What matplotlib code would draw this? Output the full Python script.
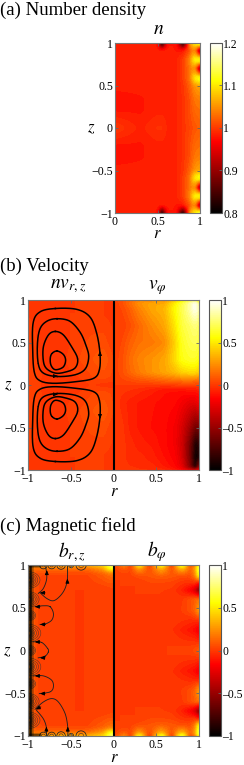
# Number density, velocity and magnetic field maps (three stacked panels).
import numpy as np
import matplotlib
matplotlib.use('Agg')
import matplotlib.pyplot as plt
from matplotlib.cm import ScalarMappable
from matplotlib.colors import LinearSegmentedColormap, Normalize
from matplotlib.patches import Ellipse

plt.rcParams['font.family'] = ['Liberation Serif', 'DejaVu Serif']
plt.rcParams['mathtext.fontset'] = 'stix'

##############################################################################
# Panel (a): n, upper half only, the lower half is the mirror image.
n_r = [0, .3, .5, .55, .62, .72, .8, .88, .94, 1]
n_z = [0, .2, .35, .5, .59, .7, .8, .91, 1]
n_vals = [
    [1.0, .985, .995, .995, .985, .985, .995, 1.005, 1.015, 1.02],
    [.98, .98, .985, .985, .985, .985, .995, 1.01, 1.025, 1.03],
    [.975, .98, .985, .985, .985, .985, .995, 1.01, 1.035, 1.04],
    [.985, .985, .985, .985, .985, .985, .995, 1.02, 1.05, 1.06],
    [.985, .985, .985, .985, .985, .985, 1.0, 1.03, 1.10, 1.13],
    [.985, .985, .985, .985, .985, .985, 1.0, 1.03, 1.05, .86],
    [.985, .985, .985, .985, .985, .985, 1.0, 1.04, 1.11, 1.14],
    [.985, .985, .985, .985, .985, .98, .98, 1.01, 1.05, .86],
    [.985, .985, .98, .78, .98, .98, .78, 1.05, 1.10, 1.15],
]

# Panel (b), left half: background of n v_rz, mirrored in z.
nv_r = [-1, -.85, -.7, -.55, -.4, -.25, -.12, 0]
nv_z = [0, .1, .3, .5, .8, 1]
nv_vals = [
    [.03, .0, -.03, -.03, -.02, .0, -.02, -.02],
    [.03, .0, -.02, -.01, .0, .03, .05, .02],
    [.03, .0, -.03, .0, .03, .06, .09, .03],
    [.02, -.01, -.03, -.01, .02, .04, .05, .0],
    [.0, -.01, -.01, .0, .0, .01, .0, -.01],
    [0, 0, 0, 0, 0, 0, 0, 0],
]

# Panel (b), right half: v_phi (not symmetric).
vphi_r = [0, .1, .2, .3, .45, .6, .72, .8, .9, .96, 1]
vphi_z = [-1, -.97, -.85, -.7, -.5, -.2, -.05, .05, .15, .3, .5, .7, .9, .97, 1]
vphi_vals = [
    [0, 0, 0, -.02, -.03, -.05, -.1, -.15, -.25, -.25, -.15],
    [0, -.02, -.03, -.05, -.05, -.1, -.15, -.25, -.6, -.95, -.5],
    [0, -.02, -.05, -.05, -.08, -.13, -.18, -.3, -.65, -1, -.9],
    [0, -.02, -.05, -.08, -.1, -.15, -.2, -.33, -.65, -.95, -.85],
    [0, -.02, -.08, -.1, -.13, -.15, -.2, -.3, -.5, -.65, -.6],
    [0, -.05, -.08, -.1, -.12, -.14, -.15, -.2, -.25, -.25, -.2],
    [0, -.02, -.03, -.05, -.08, -.12, -.12, -.12, -.1, -.1, -.08],
    [0, .02, .03, .05, .07, .1, .12, .13, .13, .12, .1],
    [0, .05, .12, .18, .25, .3, .35, .42, .45, .45, .4],
    [0, .05, .14, .2, .25, .3, .45, .58, .62, .62, .55],
    [0, .03, .1, .15, .17, .22, .42, .6, .68, .7, .65],
    [0, 0, .05, .12, .22, .3, .48, .65, .72, .78, .68],
    [0, .03, .1, .2, .3, .35, .55, .68, .85, 1, .8],
    [0, .05, .15, .25, .3, .3, .5, .65, .85, 1, .7],
    [0, .05, .1, .15, .15, .2, .3, .4, .5, .5, .3],
]

# Flow loops of panel (b), upper half; the lower half is the mirror image.
loop1_r = [-.68, -.43, -.275, -.197, -.158, -.165, -.23, -.43, -.70, -.86, -.926, -.945, -.94, -.86]
loop1_z = [.90, .89, .80, .61, .37, .18, .08, .04, .02, .05, .15, .41, .73, .86]
loop2_r = [-.66, -.51, -.39, -.32, -.29, -.33, -.45, -.66, -.82, -.88, -.89, -.86, -.78]
loop2_z = [.78, .75, .62, .46, .33, .19, .12, .10, .14, .25, .48, .66, .75]
loop3_r = [-.68, -.587, -.49, -.42, -.45, -.57, -.68, -.78, -.82, -.82, -.76]
loop3_z = [.63, .59, .45, .31, .20, .15, .14, .19, .28, .45, .59]
loop4_r = [-.66, -.587, -.56, -.59, -.68, -.73, -.74, -.72]
loop4_z = [.40, .36, .29, .21, .18, .23, .31, .37]
flow_loops = [(loop1_r, loop1_z), (loop2_r, loop2_z), (loop3_r, loop3_z), (loop4_r, loop4_z)]

# Panel (c), left half: background of b_rz, mirrored in z.
brz_r = [-1, -.93, -.85, -.5, -.3, -.12, -.04, 0]
brz_z = [0, .75, .9, .97, 1]
brz_vals = [
    [.25, .05, 0, 0, 0, 0, 0, 0],
    [.25, .05, .02, .0, .0, .02, .03, .03],
    [.25, .05, .03, .03, .03, .1, .15, .15],
    [.3, .15, .15, .15, .15, .3, .6, .65],
    [.3, .25, .3, .35, .35, .45, .7, .75],
]

# Field lines leaving the wall in panel (c).
lobe1_r = [-.859, -.781, -.703, -.625, -.566, -.539, -.539]
lobe1_z = [.676, .609, .582, .637, .727, .844, 1]
lobe2_r = [-.879, -.82, -.781, -.793]
lobe2_z = [.668, .727, .844, .98]
lobe3_r = [-.918, -.82, -.742, -.703, -.723, -.80, -.859]
lobe3_z = [.512, .523, .512, .434, .355, .309, .305]
lobe4_r = [-.94, -.84, -.77, -.762, -.80, -.88]
lobe4_z = [.102, .094, .023, -.016, -.066, -.086]
lobe5_r = [-.94, -.82, -.723, -.703, -.742, -.867]
lobe5_z = [-.297, -.297, -.348, -.426, -.484, -.504]
lobe6_r = [-.918, -.82, -.723, -.645, -.566, -.535, -.535]
lobe6_z = [-.688, -.602, -.5625, -.602, -.738, -.895, -1]
lobe7_r = [-.90, -.82, -.785, -.785]
lobe7_z = [-.70, -.80, -.90, -1]
field_lobes = [(lobe1_r, lobe1_z), (lobe2_r, lobe2_z), (lobe3_r, lobe3_z), (lobe4_r, lobe4_z),
               (lobe5_r, lobe5_z), (lobe6_r, lobe6_z), (lobe7_r, lobe7_z)]

# Closed lines against the wall: where they sit and how far out they reach.
wall_bump_z = [.824, .598, .41, .203, 0, -.191, -.39, -.594, -.816]
wall_bump_reach = [.14, .13, .09, .15, .09, .15, .09, .13, .14]
lid_bump_r = [-.82, -.723, -.613, -.496, -.379]
lid_bump_reach = [.045, .045, .05, .03, .06]
# The lines pack so tightly at the wall that they read as a dark band.
wall_band_r = [-.995, -.988, -.981, -.974, -.967, -.960, -.953, -.946]
wall_band_alpha = [1, 1, .95, .9, .8, .65, .5, .35]

# Panel (c), right half: b_phi, mirrored in z.
bphi_r = [0, .13, .2, .3, .42, .56, .68, .8, .9, .96, 1]
bphi_z = [0, .1, .24, .35, .47, .6, .705, .8, .88, .97, 1]
bphi_vals = [
    [0, 0, 0, 0, 0, 0, 0, .02, .03, .05, .1],
    [0, 0, 0, 0, 0, 0, 0, -.02, -.03, -.03, -.05],
    [0, 0, 0, 0, 0, 0, -.03, -.08, -.12, -.17, -.25],
    [0, 0, 0, 0, 0, 0, -.01, -.03, -.05, -.05, -.05],
    [0, 0, 0, 0, 0, 0, 0, 0, .05, .12, .3],
    [0, 0, 0, 0, 0, 0, 0, -.01, .05, .1, .15],
    [0, 0, 0, 0, 0, 0, -.01, -.08, -.2, -.35, -.7],
    [0, 0, 0, 0, .03, .03, .02, -.02, -.03, -.02, -.1],
    [0, 0, .02, .05, .07, .1, .08, .05, .05, .2, .6],
    [0, .1, .02, .3, .03, .35, .05, .4, .1, .3, .75],
    [0, .25, -.05, .65, -.1, .7, -.1, .75, -.05, .1, .55],
]

##############################################################################
FIG_W, FIG_H = 244, 765
hot = LinearSegmentedColormap.from_list(
    'hot64', [(0, 'black'), (.42, '#ff0000'), (.78, '#ffff00'), (1, 'white')], N=256)
fig = plt.figure(figsize=(FIG_W / 100, FIG_H / 100), dpi=100)


def px_axes(x0, y0, x1, y1):
    # Axes from pixel corners, y counted from the top of the picture.
    return fig.add_axes([x0 / FIG_W, 1 - y1 / FIG_H, (x1 - x0) / FIG_W, (y1 - y0) / FIG_H])


def px_text(x, y, s, **kw):
    kw.setdefault('ha', 'center')
    kw.setdefault('va', 'center')
    fig.text(x / FIG_W, 1 - y / FIG_H, s, **kw)


def resample(r, z, vals, mirror):
    # Take the table onto a fine grid and soften the corners of the table.
    r = np.array(r, float)
    z = np.array(z, float)
    vals = np.array(vals, float)
    if mirror:
        z = np.concatenate((-z[:0:-1], z))
        vals = np.vstack((vals[:0:-1], vals))
    rf = np.linspace(r[0], r[-1], 220)
    zf = np.linspace(z[0], z[-1], 440)
    tmp = np.array([np.interp(zf, z, vals[:, j]) for j in range(len(r))]).T
    out = np.array([np.interp(rf, r, row) for row in tmp])
    box = np.ones(7) / 7
    pad = np.pad(out, 12, mode='edge')
    for i in range(3):
        pad = np.apply_along_axis(lambda a: np.convolve(a, box, 'same'), 0, pad)
        pad = np.apply_along_axis(lambda a: np.convolve(a, box, 'same'), 1, pad)
    return rf, zf, pad[12:-12, 12:-12]


def draw_field(ax, r, z, vals, vmin, vmax, mirror=True):
    rf, zf, out = resample(r, z, vals, mirror)
    ax.contourf(rf, zf, np.clip(out, vmin, vmax), levels=np.linspace(vmin, vmax, 65), cmap=hot)


def smooth_path(r, z, closed):
    # Catmull-Rom curve through the points.
    p = np.column_stack((r, z))
    if closed:
        p = np.vstack((p[-1], p, p[0], p[1]))
    else:
        p = np.vstack((p[0], p, p[-1]))
    t = np.linspace(0, 1, 16)[:, None]
    out = []
    for i in range(1, len(p) - 2):
        p0, p1, p2, p3 = p[i - 1], p[i], p[i + 1], p[i + 2]
        out.append(.5 * (2 * p1 + (p2 - p0) * t + (2 * p0 - 5 * p1 + 4 * p2 - p3) * t ** 2
                         + (3 * p1 - p0 - 3 * p2 + p3) * t ** 3))
    return np.vstack(out)


def arrow(ax, r, z, dr, dz, size=6):
    ax.annotate('', xy=(r + dr, z + dz), xytext=(r, z), zorder=6,
                arrowprops=dict(arrowstyle='-|>,head_width=.18,head_length=.42', color='black',
                                lw=.6, shrinkA=0, shrinkB=0, mutation_scale=size))


def style_axes(ax, xt, xl, yt, yl):
    ax.set_xticks(xt)
    ax.set_xticklabels(xl)
    ax.set_yticks(yt)
    ax.set_yticklabels(yl)
    ax.tick_params(direction='in', length=2, width=.6, color='#666666', labelsize=8.6, pad=1.5,
                   top=True, right=True)
    ax.tick_params(axis='x', pad=2)
    for s in ax.spines.values():
        s.set_color('#777777')
        s.set_linewidth(.8)


def colorbar(x0, y0, x1, y1, vmin, vmax, ticks, labels):
    cax = px_axes(x0, y0, x1, y1)
    cb = fig.colorbar(ScalarMappable(Normalize(vmin, vmax), hot), cax=cax)
    cb.set_ticks(ticks)
    cb.set_ticklabels(labels)
    cax.tick_params(direction='in', length=2, width=.6, color='#666666', labelsize=8.4, pad=1)
    cb.outline.set_edgecolor('#555555')
    cb.outline.set_linewidth(.8)


z_ticks = [-1, -.5, 0, .5, 1]
z_labels = ['\u22121', '\u22120.5', '0', '0.5', '1']
wide_labels = ['\u22121', '\u22120.5', '0', '0.5', '1']
bar_ticks = [-1, -.5, 0, .5, 1]
bar_labels = ['\u20131', '\u20130.5', '0', '0.5', '1']

##############################################################################
# (a) Number density
px_text(0, 10, '(a) Number density', fontsize=13.5, ha='left')
px_text(159, 30, r'$n$', fontsize=14)
ax = px_axes(115, 43, 200, 213)
draw_field(ax, n_r, n_z, n_vals, .8, 1.2)
ax.set_xlim(0, 1)
ax.set_ylim(-1, 1)
style_axes(ax, [0, .5, 1], ['0', '0.5', '1'], z_ticks, z_labels)
px_text(91, 128, r'$z$', fontsize=12)
px_text(157, 234, r'$r$', fontsize=12)
colorbar(210, 43, 222, 213, .8, 1.2, [.8, .9, 1, 1.1, 1.2], ['0.8', '0.9', '1', '1.1', '1.2'])

##############################################################################
# (b) Velocity
px_text(0, 266, '(b) Velocity', fontsize=13.5, ha='left')
px_text(68, 286, r'$nv_{r,z}$', fontsize=14)
px_text(157, 288, r'$v_{\varphi}$', fontsize=14)
ax = px_axes(28, 300, 199, 470)
draw_field(ax, nv_r, nv_z, nv_vals, -1, 1)
draw_field(ax, vphi_r, vphi_z, vphi_vals, -1, 1, mirror=False)
for r, z in flow_loops:
    path = smooth_path(r, z, True)
    ax.plot(path[:, 0], path[:, 1], color='black', lw=1.1)
    ax.plot(path[:, 0], -path[:, 1], color='black', lw=1.1)
arrow(ax, -.70, .105, .05, 0)
arrow(ax, -.70, -.11, .05, 0)
arrow(ax, -.158, .35, 0, .05)
arrow(ax, -.158, -.35, 0, -.05)
ax.axvline(0, color='black', lw=1.5)
ax.set_xlim(-1, 1)
ax.set_ylim(-1, 1)
style_axes(ax, z_ticks, wide_labels, z_ticks, z_labels)
px_text(8, 385, r'$z$', fontsize=12)
px_text(114, 492, r'$r$', fontsize=12)
colorbar(209, 300, 221, 470, -1, 1, bar_ticks, bar_labels)

##############################################################################
# (c) Magnetic field
px_text(0, 526, '(c) Magnetic field', fontsize=13.5, ha='left')
px_text(72, 552, r'$b_{r,z}$', fontsize=14)
px_text(157, 552, r'$b_{\varphi}$', fontsize=14)
ax = px_axes(28, 565, 199, 736)
draw_field(ax, brz_r, brz_z, brz_vals, -1, 1)
draw_field(ax, bphi_r, bphi_z, bphi_vals, -1, 1)
for r, z in field_lobes:
    path = smooth_path(r, z, False)
    ax.plot(path[:, 0], path[:, 1], color='#222222', lw=.65)
# Nested closed lines on the wall, packed tightly towards r = -1.
for zc, reach in zip(wall_bump_z, wall_bump_reach):
    for f in [1, .82, .66, .52, .42, .34, .28, .23]:
        ax.add_patch(Ellipse((-1, zc), 2 * reach * f, 1.4 * reach * f, fill=False,
                             ec='#333333', lw=.4, alpha=.8))
for rb, a in zip(wall_band_r, wall_band_alpha):
    ax.plot([rb, rb], [-1, 1], color='black', lw=.5, alpha=a)
# Small ones on the lids.
for rc, reach in zip(lid_bump_r, lid_bump_reach):
    for zc in [1, -1]:
        ax.add_patch(Ellipse((rc, zc), 2 * reach, 2 * reach, fill=False, ec='#222222', lw=.55))
        ax.add_patch(Ellipse((rc, zc), reach, reach, fill=False, ec='#222222', lw=.35))
for zc in [1, -1]:
    for f in [.98, .985, .99, .995]:
        ax.plot([-1, -.85], [zc * f, zc * f], color='black', lw=.35)
for r, z, dr, dz in [(-.80, .675, -.06, 0), (-.86, .512, -.06, 0), (-.80, .305, -.06, 0),
                     (-.86, .10, -.06, 0), (-.80, -.086, -.06, 0), (-.86, -.297, -.06, 0),
                     (-.80, -.504, -.06, 0), (-.85, -.66, -.06, -.03), (-.539, .79, 0, .05),
                     (-.78, .89, 0, .05), (-.535, -.94, 0, .05), (-.785, -.94, 0, .05)]:
    arrow(ax, r, z, dr, dz)
ax.axvline(0, color='black', lw=1.5)
ax.set_xlim(-1, 1)
ax.set_ylim(-1, 1)
style_axes(ax, z_ticks, wide_labels, z_ticks, z_labels)
px_text(7, 651, r'$z$', fontsize=12)
px_text(114, 758, r'$r$', fontsize=12)
colorbar(209, 565, 221, 736, -1, 1, bar_ticks, bar_labels)

fig.savefig('out.png', dpi=100)
plt.close(fig)
